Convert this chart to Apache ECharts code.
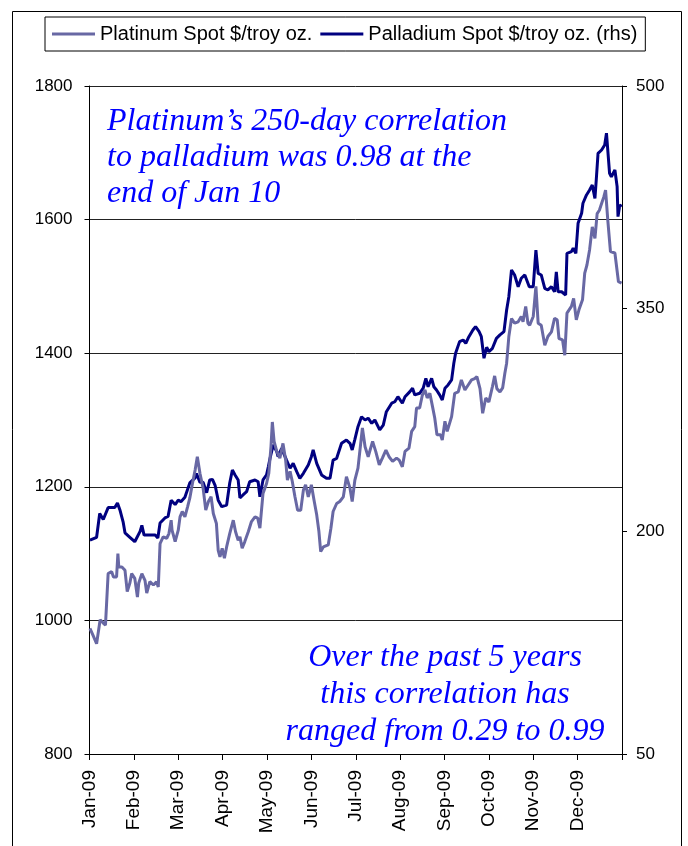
<!DOCTYPE html>
<html>
<head>
<meta charset="utf-8">
<script src="https://cdn.jsdelivr.net/npm/echarts@6/dist/echarts.min.js"></script>
<style>
html,body{margin:0;padding:0;background:#fff;}
#chart{width:688px;height:846px;}
</style>
</head>
<body>
<div id="chart"></div>
<script>
// Month tick labels (x position in months from 1 Jan 2009)
var monthLabels = ['Jan-09','Feb-09','Mar-09','Apr-09','May-09','Jun-09','Jul-09','Aug-09','Sep-09','Oct-09','Nov-09','Dec-09'];

// Platinum spot, $/troy oz (left axis)
var platMonths = [0.01,0.09,0.16,0.24,0.31,0.36,0.42,0.50,0.54,0.61,0.64,0.66,0.73,0.80,0.85,0.91,0.95,1.02,1.08,1.11,1.18,1.25,1.29,1.36,1.44,1.51,1.55,1.59,1.66,1.74,1.79,1.84,1.86,1.93,2.00,2.04,2.09,2.15,2.21,2.26,2.32,2.38,2.43,2.49,2.56,2.62,2.68,2.74,2.79,2.86,2.90,2.94,2.99,3.04,3.09,3.16,3.24,3.29,3.35,3.39,3.44,3.50,3.58,3.65,3.73,3.79,3.84,3.91,3.99,4.04,4.09,4.12,4.16,4.22,4.29,4.36,4.42,4.46,4.52,4.57,4.63,4.69,4.76,4.82,4.87,4.93,5.00,5.06,5.12,5.17,5.21,5.27,5.38,5.44,5.49,5.57,5.64,5.72,5.79,5.87,5.92,5.98,6.05,6.15,6.21,6.28,6.38,6.45,6.53,6.60,6.68,6.75,6.83,6.92,6.98,7.05,7.11,7.20,7.26,7.33,7.37,7.44,7.50,7.56,7.61,7.67,7.73,7.78,7.83,7.91,7.95,8.01,8.06,8.10,8.16,8.23,8.31,8.38,8.46,8.53,8.61,8.68,8.73,8.80,8.86,8.93,9.00,9.08,9.13,9.18,9.25,9.31,9.36,9.40,9.45,9.51,9.58,9.66,9.73,9.77,9.83,9.88,9.92,10.00,10.06,10.11,10.18,10.26,10.33,10.41,10.48,10.54,10.58,10.66,10.71,10.76,10.86,10.91,10.97,11.03,11.11,11.16,11.21,11.27,11.33,11.39,11.44,11.49,11.54,11.59,11.63,11.68,11.74,11.84,11.92,11.99];
var platValues = [988,976,965,1001,996,993,1070,1073,1065,1065,1100,1080,1080,1075,1043,1056,1070,1063,1035,1056,1070,1060,1041,1058,1053,1058,1050,1115,1125,1123,1130,1150,1135,1118,1135,1155,1163,1155,1170,1183,1205,1225,1245,1220,1198,1165,1178,1185,1160,1145,1105,1095,1108,1093,1110,1130,1150,1133,1120,1125,1108,1118,1133,1148,1155,1153,1138,1190,1205,1220,1260,1297,1268,1253,1243,1265,1240,1210,1223,1208,1185,1165,1165,1195,1203,1185,1203,1180,1158,1133,1103,1110,1113,1138,1163,1175,1178,1185,1215,1198,1178,1210,1228,1288,1260,1245,1268,1253,1233,1243,1255,1245,1238,1243,1240,1230,1253,1258,1283,1290,1318,1318,1337,1345,1333,1340,1320,1303,1278,1278,1270,1298,1283,1285,1305,1340,1342,1360,1345,1352,1360,1362,1365,1347,1310,1333,1327,1350,1366,1347,1342,1348,1370,1385,1425,1452,1445,1447,1455,1447,1470,1445,1442,1455,1500,1445,1442,1412,1425,1432,1452,1450,1422,1420,1397,1460,1470,1482,1450,1465,1480,1520,1532,1555,1589,1572,1609,1614,1624,1634,1644,1599,1552,1550,1507,1505];

// Palladium spot, $/troy oz (right axis)
var pallMonths = [0.01,0.16,0.19,0.23,0.31,0.42,0.57,0.63,0.69,0.76,0.80,0.91,1.02,1.14,1.18,1.23,1.36,1.48,1.54,1.59,1.70,1.77,1.84,1.93,2.00,2.06,2.15,2.26,2.38,2.41,2.49,2.56,2.64,2.71,2.77,2.83,2.90,2.98,3.09,3.16,3.22,3.28,3.35,3.39,3.46,3.54,3.61,3.73,3.80,3.84,3.91,3.99,4.03,4.07,4.14,4.22,4.25,4.33,4.36,4.44,4.52,4.59,4.67,4.74,4.82,4.93,5.00,5.04,5.12,5.23,5.34,5.42,5.49,5.57,5.68,5.79,5.87,5.92,5.98,6.05,6.13,6.21,6.28,6.36,6.43,6.54,6.62,6.69,6.81,6.88,6.95,6.99,7.05,7.11,7.22,7.28,7.33,7.44,7.52,7.58,7.63,7.71,7.76,7.82,7.89,7.95,8.01,8.08,8.16,8.21,8.25,8.34,8.42,8.48,8.55,8.64,8.70,8.78,8.83,8.89,8.95,9.00,9.08,9.17,9.25,9.34,9.40,9.45,9.51,9.58,9.66,9.73,9.81,9.85,9.91,10.00,10.06,10.11,10.18,10.26,10.33,10.41,10.48,10.52,10.56,10.64,10.73,10.76,10.86,10.90,10.96,11.01,11.09,11.12,11.20,11.27,11.33,11.39,11.42,11.46,11.54,11.61,11.65,11.72,11.76,11.84,11.89,11.91,11.95,11.99];
var pallValues = [194,196,196,212,208,216,216,219,214,206,199,196,193,200,204,197.5,197.5,197.5,195.5,205.6,209,210,221,218,221,220,223,232.6,236,239,233,233,226,234.6,235,231,221,216.6,217.7,232.6,241.3,238,234.6,222.5,224.5,226.7,233.4,234.6,233.4,223.3,234.6,238,243.5,249.4,258.2,253.7,250.3,255.9,257,248,242.5,245.8,240.2,235.7,239.1,244.7,250.3,254.8,245.8,238,235.7,235.7,248,249.2,259.3,261.5,259.3,254.8,262,270.5,277.2,275,276.2,272.8,275,268.3,271.6,280.6,286.3,287.3,290.7,291.9,286.3,290.7,294.1,296.4,291.9,293,296.4,303.1,297.4,303.1,297.4,295.2,291.9,288.5,296.4,298.6,302,313.2,319.9,327.8,328.9,326.7,331.1,335.6,337.9,334.5,331.1,316.6,324,321,323.3,330,332.3,334.5,349.1,358.1,376.1,372.7,364.8,370.5,372.7,371.6,364.8,364.8,389.5,373.8,372.7,363.7,362.6,364.8,361.4,374.8,361.4,361.4,359.2,387.3,388.4,390.7,387.3,407.5,414.3,421,426.6,429.9,433.3,424.3,436.7,454.6,456.9,460.3,468.2,441.2,438.9,443.4,432.2,412,419.9,418.7];

var leftTicks = {min: 800, max: 1800, interval: 200};
var rightTicks = {min: 50, max: 500, interval: 150};

function zip(xs, ys){ var out=[]; for (var i=0;i<xs.length;i++) out.push([xs[i], ys[i]]); return out; }

var chart = echarts.init(document.getElementById('chart'), null, {renderer:'canvas'});
var sans = 'Liberation Sans, Arial, sans-serif';
var serif = 'Liberation Serif, Times New Roman, serif';

chart.setOption({
  animation: false,
  backgroundColor: '#ffffff',
  grid: {left: 89.5, right: 66, top: 86, bottom: 92, containLabel: false},
  legend: {
    left: 45, top: 17,
    padding: [7, 8, 7, 7],
    itemGap: 8,
    itemWidth: 43, itemHeight: 3,
    icon: 'rect',
    borderColor: '#000', borderWidth: 1,
    data: ['Platinum Spot $/troy oz.', 'Palladium Spot $/troy oz. (rhs)'],
    textStyle: {fontFamily: sans, fontSize: 20, color: '#000'}
  },
  xAxis: {
    type: 'value', min: 0, max: 12, interval: 1,
    axisLine: {show: true, lineStyle: {color: '#000', width: 1}},
    axisTick: {show: true, inside: false, length: 6, lineStyle: {color: '#000'}},
    splitLine: {show: false},
    axisLabel: {
      rotate: 90, margin: 16, fontFamily: sans, fontSize: 19, color: '#000',
      formatter: function(v){ return monthLabels[Math.round(v)] || ''; }
    }
  },
  yAxis: [
    {
      type: 'value', position: 'left', min: leftTicks.min, max: leftTicks.max, interval: leftTicks.interval,
      axisLine: {show: true, lineStyle: {color: '#000'}},
      axisTick: {show: true, length: 5, lineStyle: {color: '#000'}},
      splitLine: {show: true, lineStyle: {color: '#222', width: 1}},
      axisLabel: {margin: 17, fontFamily: sans, fontSize: 17, color: '#000',
        formatter: function(v){ return String(v); }}
    },
    {
      type: 'value', position: 'right', min: rightTicks.min, max: rightTicks.max, interval: rightTicks.interval,
      axisLine: {show: true, lineStyle: {color: '#000'}},
      axisTick: {show: true, length: 5, lineStyle: {color: '#000'}},
      splitLine: {show: false},
      axisLabel: {margin: 14, fontFamily: sans, fontSize: 17, color: '#000',
        formatter: function(v){ return String(v); }}
    }
  ],
  series: [
    {
      name: 'Palladium Spot $/troy oz. (rhs)', type: 'line', yAxisIndex: 1,
      showSymbol: false, symbol: 'none',
      lineStyle: {color: '#000080', width: 3},
      itemStyle: {color: '#000080'},
      data: zip(pallMonths, pallValues)
    },
    {
      name: 'Platinum Spot $/troy oz.', type: 'line', yAxisIndex: 0,
      showSymbol: false, symbol: 'none',
      lineStyle: {color: '#6868A4', width: 3},
      itemStyle: {color: '#6868A4'},
      data: zip(platMonths, platValues)
    }
  ],
  graphic: [
    {
      type: 'rect', silent: true, z: -1,
      shape: {x: 12.5, y: 11.5, width: 669, height: 860},
      style: {fill: 'none', stroke: '#000', lineWidth: 1}
    },
    {
      type: 'text', left: 107, top: 104,
      style: {
        text: 'Platinum\u2019s 250-day correlation\nto palladium was 0.98 at the\nend of Jan 10',
        font: 'italic 32px ' + serif, fill: '#0000ff', lineHeight: 36, align: 'left'
      }
    },
    {
      type: 'text', x: 445, y: 639,
      style: {
        text: 'Over the past 5 years\nthis correlation has\nranged from 0.29 to 0.99',
        font: 'italic 32px ' + serif, fill: '#0000ff', lineHeight: 37, align: 'center', verticalAlign: 'top'
      }
    }
  ]
});
</script>
</body>
</html>
